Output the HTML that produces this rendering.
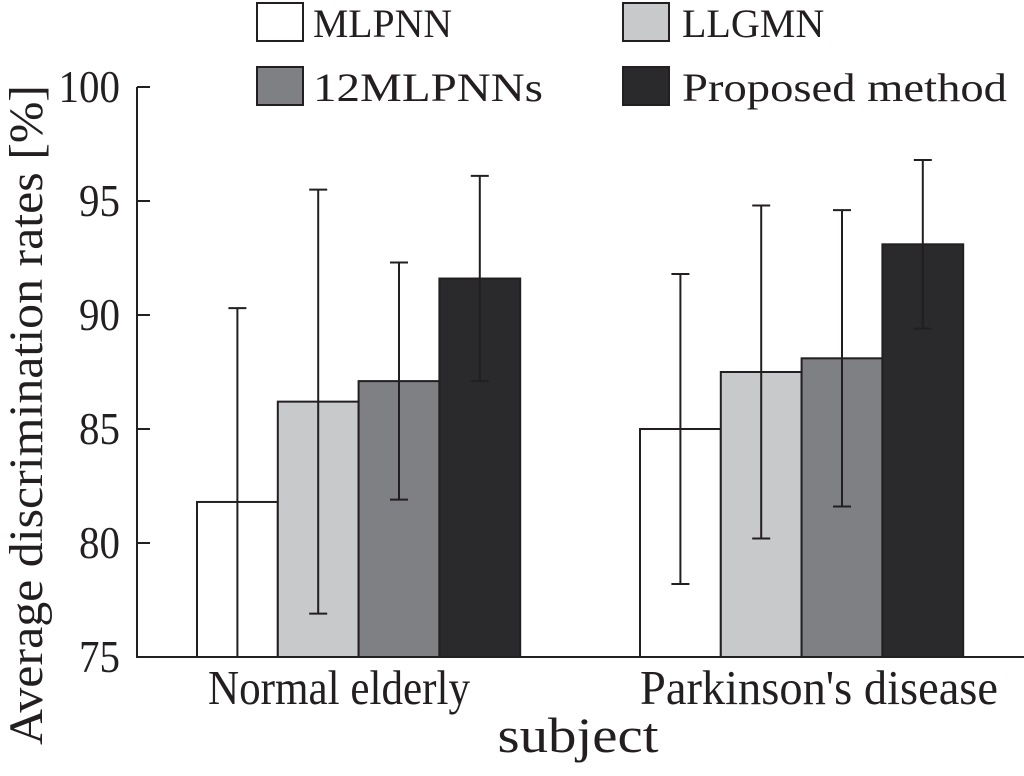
<!DOCTYPE html>
<html><head><meta charset="utf-8"><style>
body{margin:0;background:#fff;}
svg{display:block;font-family:"Liberation Serif",serif;}
</style></head><body>
<svg id="chart" width="1024" height="776" viewBox="0 0 1024 776">
<g id="legend">
<rect x="257" y="3" width="46" height="38" fill="#fff" stroke="#231f20" stroke-width="2"/>
<text x="313" y="37" font-size="40" fill="#231f20" textLength="139" lengthAdjust="spacingAndGlyphs">MLPNN</text>
<rect x="623" y="3" width="46" height="38" fill="#c8c9cb" stroke="#231f20" stroke-width="2"/>
<text x="682" y="37" font-size="40" fill="#231f20">LLGMN</text>
<rect x="257" y="67" width="46" height="38" fill="#7f8084" stroke="#231f20" stroke-width="2"/>
<text x="313" y="101" font-size="40" fill="#231f20" textLength="230" lengthAdjust="spacingAndGlyphs">12MLPNNs</text>
<rect x="623" y="67" width="46" height="38" fill="#2a292b" stroke="#231f20" stroke-width="2"/>
<text x="682" y="101" font-size="40" fill="#231f20" textLength="325" lengthAdjust="spacingAndGlyphs">Proposed method</text>
</g>
<g id="bars"></g>
<g id="axes"></g>
<text x="0" y="0" transform="translate(42,415) rotate(-90)" text-anchor="middle" font-size="48" fill="#231f20" textLength="660" lengthAdjust="spacingAndGlyphs">Average discrimination rates [%]</text>
<text x="0" y="0" transform="translate(578,752) scale(1,1.1)" text-anchor="middle" font-size="45" fill="#231f20" textLength="161" lengthAdjust="spacingAndGlyphs">subject</text>
</svg>
<script>
const categories = ["Normal elderly", "Parkinson's disease"];
const seriesNames = ["MLPNN", "LLGMN", "12MLPNNs", "Proposed method"];
const mlpnn = [81.8, 85.0];
const llgmn = [86.2, 87.5];
const mlpnns12 = [87.1, 88.1];
const proposed = [91.6, 93.1];
const errMlpnn = [8.5, 6.8];
const errLlgmn = [9.3, 7.3];
const errMlpnns12 = [5.2, 6.5];
const errProposed = [4.5, 3.7];
const yTicks = [75, 80, 85, 90, 95, 100];

const NS = "http://www.w3.org/2000/svg";
const colors = ["#ffffff", "#c8c9cb", "#7f8084", "#2a292b"];
const series = [mlpnn, llgmn, mlpnns12, proposed];
const errs = [errMlpnn, errLlgmn, errMlpnns12, errProposed];
const yMin = 75, yMax = 100, yTop = 87, yBot = 657;
function y(v){ return yBot - (v - yMin) / (yMax - yMin) * (yBot - yTop); }
const groupStart = [197, 640], barW = 80.8;
const labelCenter = [339, 819], labelLen = [262, 358];
function x(ci, si){ return groupStart[ci] + si * barW; }
function mk(tag, attrs, parent){ const e = document.createElementNS(NS, tag); for (const k in attrs) e.setAttribute(k, attrs[k]); parent.appendChild(e); return e; }
const bars = document.getElementById('bars');
const axes = document.getElementById('axes');
const clip = mk('clipPath', {id:'plotclip'}, bars);
mk('rect', {x:137, y:0, width:900, height:yBot}, clip);
bars.setAttribute('clip-path', 'url(#plotclip)');
categories.forEach((c, ci) => {
  series.forEach((s, si) => {
    const v = s[ci];
    const r = mk('rect', {x:x(ci,si), y:y(v), width:barW, height:yBot - y(v), fill:colors[si], stroke:'#231f20', 'stroke-width':2}, bars);
    
    
  });
  series.forEach((s, si) => {
    const v = s[ci], e = errs[si][ci], cx = x(ci,si) + barW/2;
    const g = mk('g', {stroke:'#231f20', 'stroke-width':2}, bars);
    
    
    mk('line', {x1:cx, x2:cx, y1:y(v+e), y2:y(v-e)}, g);
    mk('line', {x1:cx-9, x2:cx+9, y1:y(v+e), y2:y(v+e)}, g);
    mk('line', {x1:cx-9, x2:cx+9, y1:y(v-e), y2:y(v-e)}, g);
  });
  const t = mk('text', {x:0, y:0, transform:'translate(' + labelCenter[ci] + ',704) scale(1,1.1)', 'text-anchor':'middle', 'font-size':44, fill:'#231f20', textLength:labelLen[ci], lengthAdjust:'spacingAndGlyphs'}, axes);
  t.textContent = c;
  
  
});
const ya = mk('line', {x1:137, x2:137, y1:yTop, y2:yBot, stroke:'#231f20', 'stroke-width':2}, axes);


const xa = mk('line', {x1:136, x2:1024, y1:yBot, y2:yBot, stroke:'#231f20', 'stroke-width':2}, axes);


yTicks.forEach(v => {
  const tk = mk('line', {x1:137, x2:150, y1:y(v), y2:y(v), stroke:'#231f20', 'stroke-width':2}, axes);
  
  
  const t = mk('text', {x:0, y:0, transform:'translate(120,' + (y(v)+15) + ') scale(1,1.1)', 'text-anchor':'end', 'font-size':41, fill:'#231f20'}, axes);
  t.textContent = v;
  
  
});
</script>
</body></html>
